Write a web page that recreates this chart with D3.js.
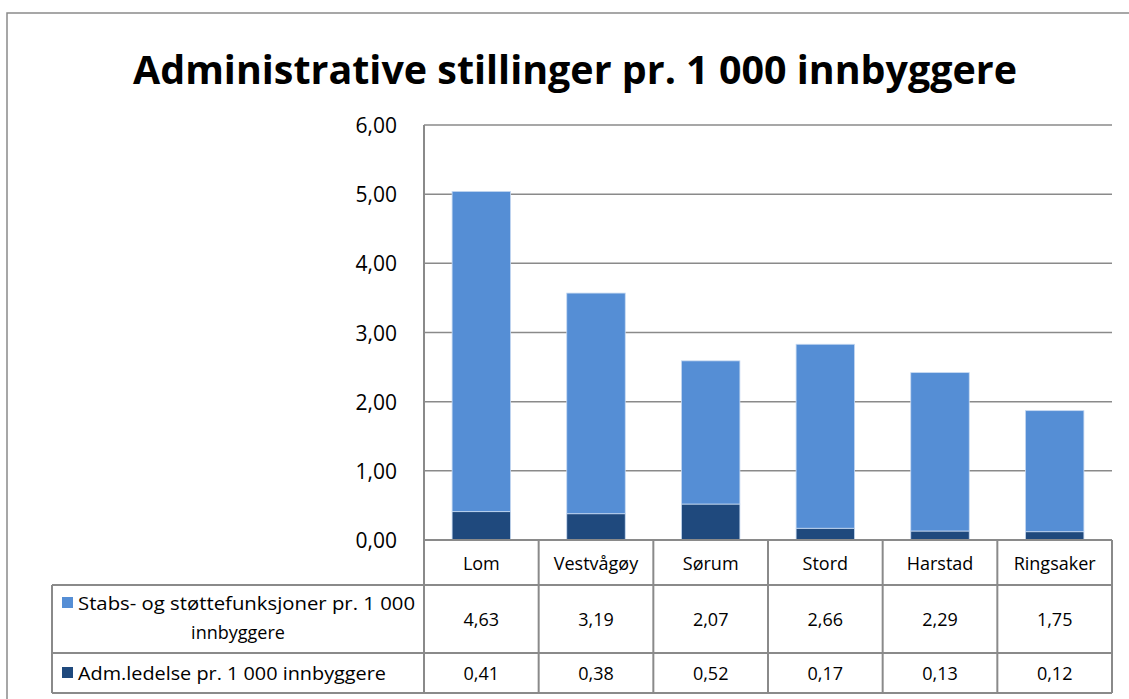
<!DOCTYPE html>
<html>
<head>
<meta charset="utf-8">
<script src="https://cdn.jsdelivr.net/npm/d3@7"></script>
<style>
  body { margin: 0; background: #fff; }
  text { font-family: "Open Sans", "Noto Sans", sans-serif; fill: #000; }
</style>
</head>
<body>
<svg id="chart" width="1129" height="699"></svg>
<script>
  // data
  var categories = ['Lom', 'Vestvågøy', 'Sørum', 'Stord', 'Harstad', 'Ringsaker'];
  var stabs = [4.63, 3.19, 2.07, 2.66, 2.29, 1.75];
  var ledelse = [0.41, 0.38, 0.52, 0.17, 0.13, 0.12];
  var yTicks = [0, 1, 2, 3, 4, 5, 6];

  var colors = { stabs: '#558ed5', ledelse: '#1f497d' };
  var lineColor = '#8a8a8a';
  var fmt = function(v) { return v.toFixed(2).replace('.', ','); };

  var svg = d3.select('#chart');

  // chart frame
  svg.append('rect')
    .attr('x', 7).attr('y', 13)
    .attr('width', 1160).attr('height', 720)
    .attr('fill', 'none').attr('stroke', lineColor).attr('stroke-width', 1.5);

  svg.append('text')
    .attr('x', 575).attr('y', 84)
    .attr('text-anchor', 'middle')
    .attr('font-size', 40).attr('font-weight', 'bold')
    .attr('textLength', 884).attr('lengthAdjust', 'spacingAndGlyphs')
    .text('Administrative stillinger pr. 1 000 innbyggere');

  var plot = { left: 424, right: 1112, top: 125, bottom: 540 };

  var x = d3.scaleBand()
    .domain(categories)
    .range([plot.left, plot.right])
    .paddingInner(0).paddingOuter(0);

  var y = d3.scaleLinear()
    .domain([0, 6])
    .range([plot.bottom, plot.top]);

  // gridlines
  svg.append('g')
    .selectAll('line')
    .data(yTicks)
    .enter().append('line')
    .attr('x1', plot.left).attr('x2', plot.right)
    .attr('y1', function(d) { return y(d); })
    .attr('y2', function(d) { return y(d); })
    .attr('stroke', lineColor).attr('stroke-width', 1.5);

  // y labels
  svg.append('g')
    .selectAll('text')
    .data(yTicks)
    .enter().append('text')
    .attr('x', 397)
    .attr('y', function(d) { return y(d) + 8; })
    .attr('text-anchor', 'end')
    .attr('font-size', 21)
    .text(fmt);

  // stacked bars
  var rows = categories.map(function(c, i) {
    return { cat: c, ledelse: ledelse[i], stabs: stabs[i] };
  });
  var stack = d3.stack().keys(['ledelse', 'stabs'])(rows);

  var barW = x.bandwidth() * 0.51;
  svg.append('g')
    .selectAll('g')
    .data(stack)
    .enter().append('g')
    .attr('fill', function(s) { return colors[s.key]; })
    .selectAll('rect')
    .data(function(s) { return s; })
    .enter().append('rect')
    .attr('x', function(d) { return x(d.data.cat) + (x.bandwidth() - barW) / 2; })
    .attr('width', barW)
    .attr('y', function(d) { return y(d[1]); })
    .attr('height', function(d) { return y(d[0]) - y(d[1]); })
    .attr('stroke', '#c6d9f1').attr('stroke-width', 0.8);

  // data table
  var rowTop = [540, 585, 653, 693];
  var tableLeft = 52;
  var g = svg.append('g').attr('stroke', lineColor).attr('stroke-width', 2);

  g.append('line').attr('x1', plot.left).attr('x2', plot.right).attr('y1', rowTop[0]).attr('y2', rowTop[0]);
  [1, 2, 3].forEach(function(r) {
    g.append('line').attr('x1', tableLeft).attr('x2', plot.right)
      .attr('y1', rowTop[r]).attr('y2', rowTop[r]);
  });
  g.append('line').attr('x1', tableLeft).attr('x2', tableLeft).attr('y1', rowTop[1]).attr('y2', rowTop[3]);
  g.append('line').attr('x1', plot.left).attr('x2', plot.left).attr('y1', plot.top).attr('y2', rowTop[3]);
  categories.forEach(function(c) {
    var xr = x(c) + x.bandwidth();
    g.append('line').attr('x1', xr).attr('x2', xr).attr('y1', rowTop[0]).attr('y2', rowTop[3]);
  });

  // category labels
  svg.append('g').selectAll('text')
    .data(categories)
    .enter().append('text')
    .attr('x', function(d) { return x(d) + x.bandwidth() / 2; })
    .attr('y', 570)
    .attr('text-anchor', 'middle')
    .attr('font-size', 18)
    .text(function(d) { return d; });

  [stabs, ledelse].forEach(function(vals, r) {
    svg.append('g').selectAll('text')
      .data(vals)
      .enter().append('text')
      .attr('x', function(d, i) { return x(categories[i]) + x.bandwidth() / 2; })
      .attr('y', r === 0 ? 626 : 680)
      .attr('text-anchor', 'middle')
      .attr('font-size', 18)
      .text(fmt);
  });

  // legend keys in row headers
  svg.append('rect').attr('x', 62).attr('y', 597).attr('width', 11).attr('height', 11).attr('fill', colors.stabs);
  svg.append('text').attr('x', 78).attr('y', 610).attr('font-size', 18)
    .attr('textLength', 337).attr('lengthAdjust', 'spacingAndGlyphs')
    .text('Stabs- og støttefunksjoner pr. 1 000');
  svg.append('text').attr('x', 238).attr('y', 639).attr('font-size', 18)
    .attr('text-anchor', 'middle')
    .text('innbyggere');

  svg.append('rect').attr('x', 62).attr('y', 667).attr('width', 11).attr('height', 11).attr('fill', colors.ledelse);
  svg.append('text').attr('x', 78).attr('y', 680).attr('font-size', 18)
    .attr('textLength', 308).attr('lengthAdjust', 'spacingAndGlyphs')
    .text('Adm.ledelse pr. 1 000 innbyggere');
</script>
</body>
</html>
